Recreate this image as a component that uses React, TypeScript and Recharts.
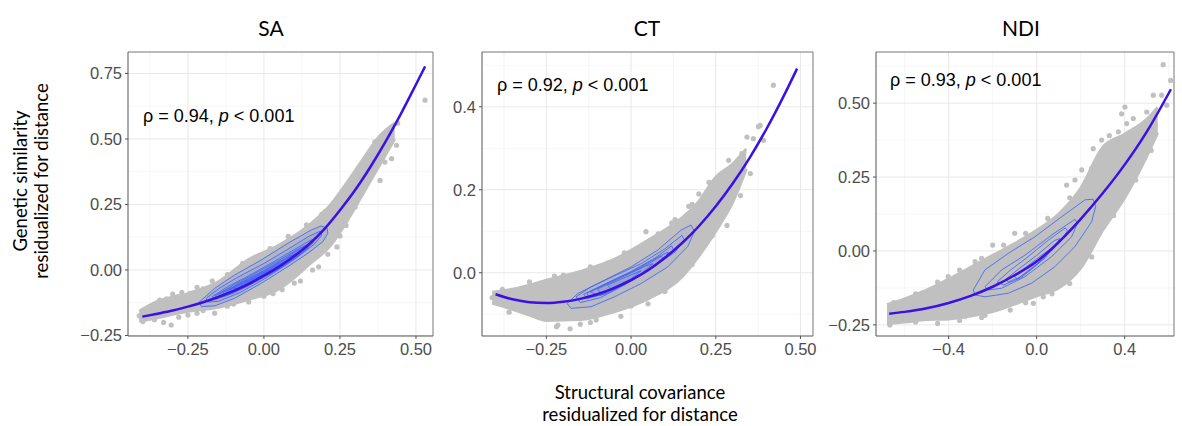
import React from "react";
import { Area, CartesianGrid, ComposedChart, ReferenceLine, Scatter, XAxis, YAxis } from "recharts";

// ---- SA ----
const saCurve = [
  [-0.4, -0.178], [-0.35, -0.167], [-0.3, -0.155], [-0.25, -0.14], [-0.2, -0.123], [-0.15, -0.103],
  [-0.1, -0.08], [-0.05, -0.053], [0, -0.021], [0.05, 0.013], [0.1, 0.053], [0.15, 0.1], [0.2, 0.158],
  [0.25, 0.228], [0.3, 0.305], [0.35, 0.393], [0.4, 0.49], [0.45, 0.595], [0.5, 0.708], [0.53, 0.777],
];
const saCloud = [
  [-0.41, -0.196, -0.157], [-0.35, -0.182, -0.12], [-0.25, -0.158, -0.09], [-0.15, -0.142, -0.045],
  [-0.05, -0.112, 0.04], [0.05, -0.072, 0.095], [0.15, 0.022, 0.172], [0.22, 0.095, 0.25],
  [0.28, 0.2, 0.345], [0.33, 0.3, 0.43], [0.38, 0.4, 0.51], [0.43, 0.5, 0.56],
];
const saPoints = [
  [-0.398, -0.197], [-0.343, -0.115], [-0.305, -0.21], [-0.38, -0.159], [-0.162, -0.165], [-0.283, -0.102],
  [-0.41, -0.175], [-0.36, -0.19], [-0.243, -0.089], [-0.2, -0.155], [-0.12, -0.138], [-0.05, -0.122],
  [0.03, -0.09], [0.12, -0.042], [0.18, 0.012], [0.24, 0.088], [-0.3, -0.092], [-0.2, -0.072],
  [-0.1, -0.012], [0.0, 0.058], [0.1, 0.12], [0.2, 0.222], [0.26, 0.29], [0.53, 0.648], [0.436, 0.476],
  [0.42, 0.425], [0.398, 0.412], [0.382, 0.342], [0.365, 0.489], [0.409, 0.527], [0.349, 0.45],
  [0.338, 0.387], [0.44, 0.56], [0.31, 0.34], [0.3, 0.24], [-0.25, -0.172], [-0.33, -0.2],
  [-0.38, -0.145], [-0.32, -0.11], [-0.27, -0.085], [-0.22, -0.066], [-0.17, -0.042], [-0.12, -0.018],
  [-0.07, 0.025], [0.02, 0.082], [0.08, 0.128], [0.14, 0.172], [0.19, 0.212], [-0.28, -0.18],
  [-0.22, -0.165], [-0.1, -0.13], [0.0, -0.1], [0.06, -0.075], [0.1, -0.05], [0.16, 0.0], [0.21, 0.06],
  [0.25, 0.13], [0.27, 0.17],
];
const saContours = [
  [[-0.2115, -0.121], [-0.162, -0.07], [-0.096, -0.019], [-0.009, 0.038], [0.079, 0.102], [0.156, 0.153], [0.188, 0.168], [0.208, 0.159], [0.21, 0.14], [0.194, 0.108], [0.145, 0.064], [0.079, 0.013], [-0.009, -0.051], [-0.096, -0.108], [-0.162, -0.137], [-0.206, -0.14]],
  [[-0.19, -0.108], [-0.15, -0.072], [-0.09, -0.03], [0.0, 0.025], [0.08, 0.08], [0.15, 0.13], [0.185, 0.148], [0.19, 0.132], [0.165, 0.098], [0.1, 0.04], [0.0, -0.035], [-0.08, -0.087], [-0.15, -0.12], [-0.185, -0.122]],
  [[-0.17, -0.102], [-0.12, -0.064], [-0.05, -0.022], [0.03, 0.03], [0.1, 0.078], [0.155, 0.115], [0.165, 0.108], [0.13, 0.068], [0.06, 0.015], [-0.02, -0.04], [-0.1, -0.088], [-0.16, -0.112]],
  [[-0.16, -0.098], [-0.1, -0.057], [-0.03, -0.014], [0.05, 0.037], [0.12, 0.085], [0.15, 0.098], [0.145, 0.088], [0.1, 0.05], [0.03, -0.003], [-0.05, -0.058], [-0.12, -0.097], [-0.155, -0.106]],
  [[-0.15, -0.094], [-0.08, -0.05], [0.0, -0.002], [0.07, 0.045], [0.135, 0.092], [0.145, 0.085], [0.1, 0.043], [0.02, -0.013], [-0.06, -0.065], [-0.14, -0.102]],
  [[-0.135, -0.087], [-0.065, -0.043], [0.015, 0.006], [0.085, 0.052], [0.125, 0.074], [0.12, 0.066], [0.08, 0.03], [0.01, -0.02], [-0.07, -0.07], [-0.13, -0.096]],
  [[-0.125, -0.082], [-0.05, -0.038], [0.03, 0.012], [0.1, 0.06], [0.115, 0.057], [0.07, 0.018], [0.0, -0.028], [-0.08, -0.075], [-0.12, -0.09]],
  [[-0.11, -0.075], [-0.035, -0.031], [0.04, 0.016], [0.095, 0.048], [0.085, 0.036], [0.03, -0.003], [-0.04, -0.05], [-0.105, -0.083]],
  [[-0.095, -0.066], [-0.02, -0.024], [0.05, 0.02], [0.085, 0.037], [0.06, 0.016], [0.0, -0.022], [-0.07, -0.064], [-0.095, -0.072]],
  [[-0.075, -0.056], [-0.01, -0.019], [0.05, 0.016], [0.06, 0.014], [0.02, -0.014], [-0.05, -0.056], [-0.075, -0.062]],
  [[-0.06, -0.046], [0.0, -0.014], [0.045, 0.01], [0.035, 0.0], [-0.02, -0.032], [-0.06, -0.052]],
];

// ---- CT ----
const ctCurve = [
  [-0.4, -0.052], [-0.35, -0.064], [-0.3, -0.071], [-0.25, -0.073], [-0.2, -0.07], [-0.15, -0.063],
  [-0.1, -0.052], [-0.05, -0.037], [0, -0.018], [0.05, 0.006], [0.1, 0.036], [0.15, 0.071], [0.2, 0.112],
  [0.25, 0.16], [0.3, 0.215], [0.35, 0.277], [0.4, 0.347], [0.45, 0.425], [0.49, 0.492],
];
const ctCloud = [
  [-0.41, -0.073, -0.047], [-0.35, -0.088, -0.04], [-0.3, -0.102, -0.03], [-0.25, -0.115, -0.018],
  [-0.15, -0.113, 0.003], [-0.05, -0.094, 0.032], [0.05, -0.063, 0.078], [0.15, -0.01, 0.132],
  [0.2, 0.04, 0.172], [0.25, 0.1, 0.23], [0.3, 0.17, 0.262], [0.34, 0.25, 0.298],
];
const ctPoints = [
  [0.42, 0.452], [0.381, 0.355], [0.391, 0.319], [0.342, 0.327], [0.361, 0.323], [0.327, 0.287],
  [0.352, 0.239], [0.317, 0.267], [0.288, 0.271], [0.323, 0.186], [0.297, 0.251], [0.283, 0.114],
  [0.273, 0.142], [0.376, 0.352], [0.044, 0.099], [-0.069, 0.023], [-0.103, -0.114], [-0.216, -0.126],
  [-0.266, -0.098], [-0.325, -0.082], [-0.389, -0.066], [-0.226, -0.008], [-0.29, -0.035], [-0.34, -0.043],
  [-0.41, -0.06], [0.12, 0.12], [0.2, 0.19], [0.22, 0.07], [0.1, -0.04], [0.0, -0.08], [-0.15, -0.124],
  [0.17, 0.16], [0.26, 0.2], [-0.18, -0.135], [-0.38, -0.04], [-0.3, -0.022], [-0.2, -0.006],
  [-0.12, 0.014], [-0.02, 0.048], [0.08, 0.094], [0.13, 0.128], [0.18, 0.165], [0.23, 0.218],
  [-0.36, -0.095], [-0.22, -0.13], [-0.12, -0.12], [-0.03, -0.105], [0.05, -0.075], [0.1, -0.045],
  [0.18, 0.02], [0.24, 0.09], [0.28, 0.15],
];
const ctContours = [
  [[-0.189, -0.074], [-0.157, -0.05], [-0.079, -0.018], [0.0, 0.014], [0.079, 0.055], [0.148, 0.103], [0.177, 0.115], [0.187, 0.099], [0.167, 0.063], [0.108, 0.014], [0.03, -0.026], [-0.049, -0.058], [-0.118, -0.082], [-0.177, -0.086]],
  [[-0.162, -0.058], [-0.12, -0.035], [-0.05, -0.008], [0.03, 0.022], [0.1, 0.058], [0.15, 0.09], [0.157, 0.08], [0.13, 0.05], [0.06, 0.01], [-0.02, -0.03], [-0.09, -0.06], [-0.15, -0.072]],
  [[-0.14, -0.052], [-0.08, -0.028], [0.0, 0.003], [0.07, 0.035], [0.12, 0.065], [0.125, 0.055], [0.08, 0.022], [0.01, -0.015], [-0.07, -0.05], [-0.13, -0.062]],
  [[-0.13, -0.049], [-0.065, -0.023], [0.015, 0.008], [0.08, 0.038], [0.11, 0.05], [0.105, 0.042], [0.06, 0.012], [-0.01, -0.022], [-0.085, -0.053], [-0.125, -0.058]],
  [[-0.12, -0.046], [-0.05, -0.018], [0.03, 0.012], [0.09, 0.04], [0.095, 0.032], [0.04, 0.002], [-0.03, -0.03], [-0.1, -0.054]],
  [[-0.1, -0.04], [-0.03, -0.012], [0.04, 0.015], [0.065, 0.022], [0.03, -0.002], [-0.04, -0.032], [-0.09, -0.048]],
  [[-0.07, -0.03], [0.0, -0.005], [0.03, 0.005], [0.0, -0.015], [-0.06, -0.038]],
];

// ---- NDI ----
const ndiCurve = [
  [-0.67, -0.212], [-0.6, -0.206], [-0.5, -0.194], [-0.4, -0.176], [-0.3, -0.152], [-0.2, -0.121],
  [-0.1, -0.082], [0, -0.036], [0.1, 0.03], [0.2, 0.108], [0.3, 0.195], [0.4, 0.292], [0.5, 0.403], [0.61, 0.547],
];
const ndiCloud = [
  [-0.68, -0.245, -0.182], [-0.6, -0.24, -0.162], [-0.5, -0.232, -0.132], [-0.4, -0.23, -0.095],
  [-0.3, -0.22, -0.055], [-0.2, -0.205, -0.015], [-0.1, -0.18, 0.025], [0.0, -0.152, 0.07],
  [0.1, -0.125, 0.125], [0.2, -0.058, 0.212], [0.3, 0.07, 0.35], [0.4, 0.18, 0.395], [0.5, 0.32, 0.445], [0.55, 0.4, 0.485],
];
const ndiPoints = [
  [0.575, 0.63], [0.609, 0.577], [0.53, 0.527], [0.568, 0.527], [0.591, 0.493], [0.5, 0.47], [0.401, 0.487],
  [0.386, 0.464], [0.439, 0.448], [0.371, 0.403], [0.295, 0.375], [0.257, 0.346], [0.515, 0.38], [0.538, 0.425],
  [0.409, 0.431], [-0.667, -0.25], [-0.584, -0.166], [-0.523, -0.143], [-0.402, -0.087], [-0.28, -0.036],
  [0.03, -0.155], [-0.015, -0.177], [0.083, -0.098], [0.295, 0.077], [0.136, 0.223], [0.174, 0.24], [0.205, 0.274],
  [-0.409, -0.104], [-0.326, -0.222], [-0.235, -0.217], [-0.508, -0.222], [-0.599, -0.222], [0.35, 0.14],
  [0.45, 0.3], [0.15, -0.08], [-0.1, 0.06], [-0.2, 0.02], [-0.65, -0.175], [-0.55, -0.145], [-0.45, -0.105],
  [-0.35, -0.065], [-0.25, -0.025], [-0.15, 0.02], [-0.05, 0.06], [0.05, 0.11], [0.15, 0.18], [0.25, 0.28],
  [0.33, 0.39], [-0.55, -0.24], [-0.45, -0.245], [-0.35, -0.235], [-0.25, -0.225], [-0.12, -0.2],
  [-0.05, -0.175], [0.07, -0.145], [0.15, -0.11], [0.25, -0.02], [0.35, 0.12], [0.45, 0.24], [0.52, 0.34],
];
const ndiContours = [
  [[-0.288, -0.132], [-0.235, -0.064], [-0.129, -0.008], [-0.008, 0.048], [0.114, 0.116], [0.22, 0.173], [0.257, 0.175], [0.268, 0.15], [0.25, 0.099], [0.174, 0.015], [0.083, -0.053], [-0.023, -0.109], [-0.129, -0.143], [-0.235, -0.155], [-0.28, -0.149]],
  [[-0.235, -0.121], [-0.159, -0.064], [-0.053, -0.014], [0.068, 0.054], [0.174, 0.107], [0.185, 0.094], [0.159, 0.048], [0.068, -0.019], [-0.053, -0.087], [-0.159, -0.126], [-0.22, -0.132]],
  [[-0.18, -0.105], [-0.12, -0.065], [-0.04, -0.02], [0.05, 0.035], [0.13, 0.078], [0.14, 0.068], [0.1, 0.025], [0.02, -0.035], [-0.07, -0.09], [-0.15, -0.115]],
  [[-0.14, -0.095], [-0.08, -0.06], [0.0, -0.015], [0.08, 0.035], [0.105, 0.042], [0.08, 0.01], [0.0, -0.045], [-0.08, -0.09], [-0.13, -0.105]],
  [[-0.1, -0.085], [-0.04, -0.05], [0.03, -0.01], [0.06, 0.005], [0.04, -0.022], [-0.03, -0.065], [-0.09, -0.095]],
];

const GRAY = "#c0c0c0";
const CURVE = "#3a10e6";
const CONTOUR = "#4a6af2";
const TICK = { fill: "#4d4d4d", fontSize: 16.5, fontFamily: "Liberation Sans, Arial" };

const xy = (a: number[][]) => a.map(([x, y]) => ({ x, y }));
const fmt = (d: number) => (v: number) => (v < 0 ? "\u2212" : "") + Math.abs(v).toFixed(d);

function Panel(props: any) {
  const { left, right, xDomain, yDomain, xTicks, yTicks, xMinor, yMinor, xDec, yDec, cloud, points, contours, curve, tint } = props;
  const data = cloud.map(([x, lo, hi]: number[]) => ({ x, range: [lo, hi] }));
  return (
    <div style={{ position: "absolute", left: left - 60, top: 42 }}>
      <ComposedChart width={right - left + 70} height={324} data={data} margin={{ top: 10, right: 10, bottom: 0, left: 0 }}>
        <CartesianGrid horizontalValues={yMinor} verticalValues={xMinor} stroke="#f2f2f2" strokeWidth={0.7} />
        <CartesianGrid horizontalValues={yTicks} verticalValues={xTicks} stroke="#e9e9e9" strokeWidth={1} />
        <XAxis type="number" dataKey="x" domain={xDomain} ticks={xTicks} allowDataOverflow height={30}
          tickFormatter={fmt(xDec)} tickSize={3} tickMargin={4} stroke="#555" tick={TICK} />
        <YAxis type="number" dataKey="y" domain={yDomain} ticks={yTicks} allowDataOverflow width={60}
          tickFormatter={fmt(yDec)} tickSize={3} tickMargin={3} stroke="#555" tick={TICK} />
        <Area dataKey="range" type="monotone" fill={GRAY} fillOpacity={1} stroke={GRAY} strokeWidth={3} isAnimationActive={false} />
        <Scatter data={xy(points)} isAnimationActive={false}
          shape={(p: any) => <circle cx={p.cx} cy={p.cy} r={2.6} fill={GRAY} />} />
        {contours.map((c: number[][], i: number) => (
          <Scatter key={i} data={xy(c)} isAnimationActive={false} shape={() => <g />}
            line={{ stroke: CONTOUR, strokeWidth: 0.9, fill: CONTOUR, fillOpacity: tint }}
            lineType="joint" lineJointType="linearClosed" />
        ))}
        <Scatter data={xy(curve)} isAnimationActive={false} shape={() => <g />}
          line={{ stroke: CURVE, strokeWidth: 2.5 }} lineType="joint" lineJointType="monotoneX" />
        <ReferenceLine x={xDomain[1]} stroke="#777" />
        <ReferenceLine y={yDomain[1]} stroke="#777" />
      </ComposedChart>
    </div>
  );
}

const title = (text: string, cx: number) => (
  <div style={{ position: "absolute", left: cx - 60, top: 15, width: 120, textAlign: "center", fontSize: 21, lineHeight: "26px", fontFamily: "Lato" }}>{text}</div>
);
const note = (rho: string, x: number, cy: number) => (
  <div style={{ position: "absolute", left: x, top: cy - 11, fontSize: 18, lineHeight: "22px", fontFamily: "Liberation Sans, Arial", whiteSpace: "nowrap" }}>
    ρ = {rho}, <i>p</i> &lt; 0.001
  </div>
);

export default function App() {
  return (
    <div style={{ position: "absolute", left: 0, top: 0, width: 1182, height: 426, background: "#fff", overflow: "hidden" }}>
      {title("SA", 271)}
      {title("CT", 647)}
      {title("NDI", 1021)}
      <Panel left={128} right={433} xDomain={[-0.447, 0.556]} yDomain={[-0.252, 0.832]}
        xTicks={[-0.25, 0, 0.25, 0.5]} yTicks={[-0.25, 0, 0.25, 0.5, 0.75]}
        xMinor={[-0.375, -0.125, 0.125, 0.375]} yMinor={[-0.125, 0.125, 0.375, 0.625]} xDec={2} yDec={2}
        cloud={saCloud} points={saPoints} contours={saContours} curve={saCurve} tint={0.12} />
      <Panel left={482} right={813} xDomain={[-0.44, 0.537]} yDomain={[-0.1525, 0.532]}
        xTicks={[-0.25, 0, 0.25, 0.5]} yTicks={[0, 0.2, 0.4]}
        xMinor={[-0.375, -0.125, 0.125, 0.375]} yMinor={[-0.1, 0.1, 0.3, 0.5]} xDec={2} yDec={1}
        cloud={ctCloud} points={ctPoints} contours={ctContours} curve={ctCurve} tint={0.05} />
      <Panel left={876} right={1174} xDomain={[-0.73, 0.624]} yDomain={[-0.2876, 0.673]}
        xTicks={[-0.4, 0, 0.4]} yTicks={[-0.25, 0, 0.25, 0.5]}
        xMinor={[-0.6, -0.2, 0.2, 0.6]} yMinor={[-0.125, 0.125, 0.375, 0.625]} xDec={1} yDec={2}
        cloud={ndiCloud} points={ndiPoints} contours={ndiContours} curve={ndiCurve} tint={0} />
      {note("0.94", 143, 116)}
      {note("0.92", 497, 85)}
      {note("0.93", 890, 80)}
      <div style={{ position: "absolute", left: -79, top: 160, width: 220, height: 42, transform: "rotate(-90deg)", textAlign: "center", fontSize: 18.5, lineHeight: "21px", fontFamily: "Lato" }}>
        Genetic similarity<br />residualized for distance
      </div>
      <div style={{ position: "absolute", left: 530, top: 381, width: 220, textAlign: "center", fontSize: 18.5, lineHeight: "22px", fontFamily: "Lato" }}>
        Structural covariance<br />residualized for distance
      </div>
    </div>
  );
}
